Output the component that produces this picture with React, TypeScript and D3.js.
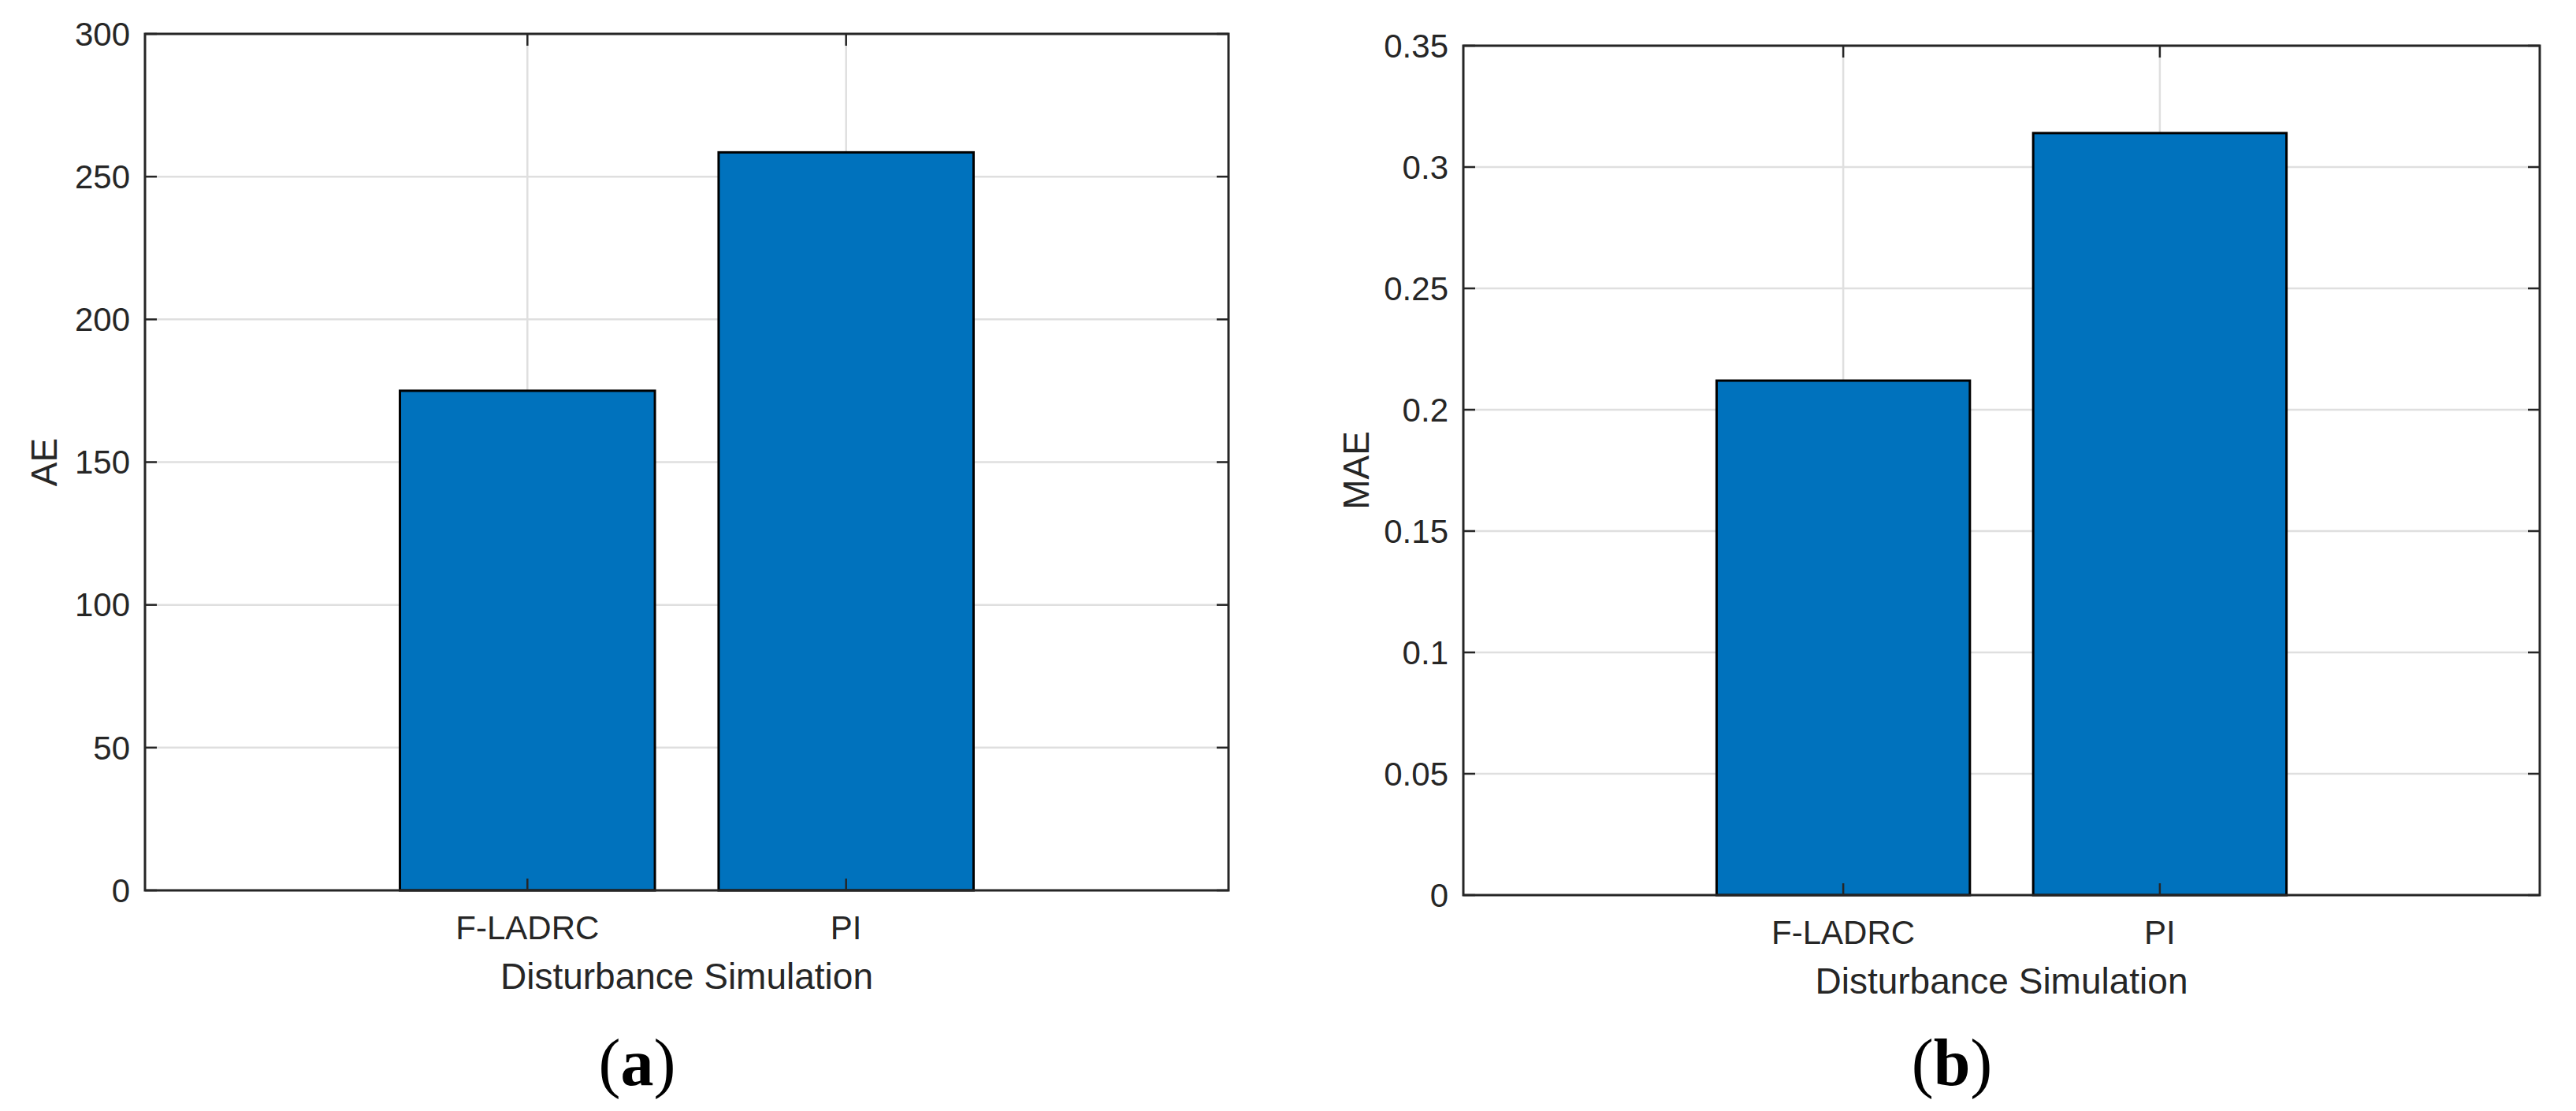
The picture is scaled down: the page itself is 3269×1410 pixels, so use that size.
import React, { useRef, useEffect } from 'react';
import * as d3 from 'd3';

const categories = ['F-LADRC', 'PI'];
const aeValues = [175, 258.5];
const maeValues = [0.212, 0.314];
const aeTicks = [0, 50, 100, 150, 200, 250, 300];
const maeTicks = [0, 0.05, 0.1, 0.15, 0.2, 0.25, 0.3, 0.35];
const xLabel = 'Disturbance Simulation';

const App = () => {
  const chartRef = useRef(null);

  useEffect(() => {
    const container = d3.select(chartRef.current);
    container.select('svg').remove();

    const width = 3269;
    const height = 1410;
    const ink = '#262626';
    const font = 'Liberation Sans, Arial, Helvetica, sans-serif';

    const svg = container
      .append('svg')
      .attr('width', width)
      .attr('height', height)
      .style('display', 'block')
      .style('background', '#ffffff');

    const panels = [
      { values: aeValues, ticks: aeTicks, yLabel: 'AE', tag: 'a', left: 184, right: 1559, top: 43, bottom: 1130, yLabelX: 55 },
      { values: maeValues, ticks: maeTicks, yLabel: 'MAE', tag: 'b', left: 1857, right: 3223, top: 58, bottom: 1136, yLabelX: 1720 },
    ];

    panels.forEach((p) => {
      const xScale = d3.scaleLinear().domain([-0.2, 3.2]).range([p.left, p.right]);
      const yScale = d3
        .scaleLinear()
        .domain([p.ticks[0], p.ticks[p.ticks.length - 1]])
        .range([p.bottom, p.top]);
      const g = svg.append('g');
      const positions = categories.map((_, i) => i + 1);

      // grid
      g.selectAll('.hgrid')
        .data(p.ticks)
        .enter()
        .append('line')
        .attr('x1', p.left)
        .attr('x2', p.right)
        .attr('y1', (d) => yScale(d))
        .attr('y2', (d) => yScale(d))
        .attr('stroke', '#dfdfdf')
        .attr('stroke-width', 2.5);
      g.selectAll('.vgrid')
        .data(positions)
        .enter()
        .append('line')
        .attr('x1', (d) => xScale(d))
        .attr('x2', (d) => xScale(d))
        .attr('y1', p.top)
        .attr('y2', p.bottom)
        .attr('stroke', '#dfdfdf')
        .attr('stroke-width', 2.5);

      // bars
      g.selectAll('.bar')
        .data(p.values)
        .enter()
        .append('rect')
        .attr('x', (_, i) => xScale(positions[i] - 0.4))
        .attr('width', xScale(0.8) - xScale(0))
        .attr('y', (d) => yScale(d))
        .attr('height', (d) => yScale(0) - yScale(d))
        .attr('fill', '#0072BD')
        .attr('stroke', '#000000')
        .attr('stroke-width', 3);

      // ticks on all four sides
      const tl = 15;
      p.ticks.forEach((t) => {
        const y = yScale(t);
        g.append('line').attr('x1', p.left).attr('x2', p.left + tl).attr('y1', y).attr('y2', y).attr('stroke', ink).attr('stroke-width', 2.5);
        g.append('line').attr('x1', p.right).attr('x2', p.right - tl).attr('y1', y).attr('y2', y).attr('stroke', ink).attr('stroke-width', 2.5);
      });
      positions.forEach((x) => {
        const px = xScale(x);
        g.append('line').attr('x1', px).attr('x2', px).attr('y1', p.bottom).attr('y2', p.bottom - tl).attr('stroke', ink).attr('stroke-width', 2.5);
        g.append('line').attr('x1', px).attr('x2', px).attr('y1', p.top).attr('y2', p.top + tl).attr('stroke', ink).attr('stroke-width', 2.5);
      });

      // box
      g.append('rect')
        .attr('x', p.left)
        .attr('y', p.top)
        .attr('width', p.right - p.left)
        .attr('height', p.bottom - p.top)
        .attr('fill', 'none')
        .attr('stroke', ink)
        .attr('stroke-width', 3);

      // y tick labels
      g.selectAll('.ylab')
        .data(p.ticks)
        .enter()
        .append('text')
        .attr('x', p.left - 19)
        .attr('y', (d) => yScale(d))
        .attr('dy', '0.35em')
        .attr('text-anchor', 'end')
        .attr('font-family', font)
        .attr('font-size', 42)
        .attr('fill', ink)
        .text((d) => String(d));

      // x tick labels
      g.selectAll('.xlab')
        .data(categories)
        .enter()
        .append('text')
        .attr('x', (_, i) => xScale(positions[i]))
        .attr('y', p.bottom + 62)
        .attr('text-anchor', 'middle')
        .attr('font-family', font)
        .attr('font-size', 42)
        .attr('fill', ink)
        .text((d) => d);

      // axis labels
      g.append('text')
        .attr('x', (p.left + p.right) / 2)
        .attr('y', p.bottom + 125)
        .attr('text-anchor', 'middle')
        .attr('font-family', font)
        .attr('font-size', 46)
        .attr('fill', ink)
        .text(xLabel);
      g.append('text')
        .attr('transform', `translate(${p.yLabelX + 17}, ${(p.top + p.bottom) / 2}) rotate(-90)`)
        .attr('text-anchor', 'middle')
        .attr('font-family', font)
        .attr('font-size', 46)
        .attr('fill', ink)
        .text(p.yLabel);

      // panel tag
      const tag = g
        .append('text')
        .attr('x', (p.left + p.right) / 2 - 63)
        .attr('y', 1377)
        .attr('text-anchor', 'middle')
        .attr('font-family', 'Liberation Serif, Times New Roman, serif')
        .attr('font-size', 84)
        .attr('fill', '#000000');
      tag.append('tspan').text('(');
      tag.append('tspan').attr('font-weight', 'bold').text(p.tag);
      tag.append('tspan').text(')');
    });
  }, []);

  return <div ref={chartRef} style={{ position: 'absolute', left: 0, top: 0 }}></div>;
};

export default App;
